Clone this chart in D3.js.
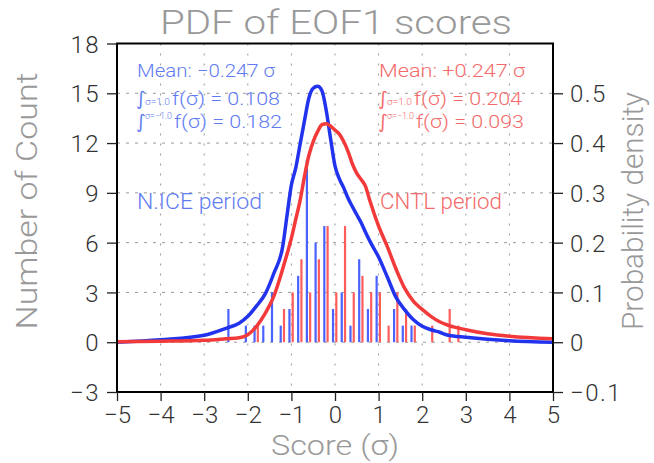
<!DOCTYPE html>
<html>
<head>
<meta charset="utf-8">
<script src="https://cdn.jsdelivr.net/npm/d3@7"></script>
<style>
  body { margin: 0; background: #fff; }
  svg text { font-family: Roboto, "DejaVu Sans", sans-serif; font-weight: 300; }
</style>
</head>
<body>
<div id="chart"></div>
<script>
// histogram bins (sigma) and counts for the two periods
const binCenters = [-2.4, -2.2, -2.0, -1.8, -1.6, -1.4, -1.2, -1.0, -0.8, -0.6, -0.4, -0.2, 0.0,
  0.2, 0.4, 0.6, 0.8, 1.0, 1.2, 1.4, 1.6, 1.8, 2.0, 2.2, 2.4, 2.6, 2.8];
const niceCounts = [2, 0, 1, 1, 1, 3, 1, 2, 4, 11, 6, 7, 2, 3, 1, 5, 2, 4, 0, 2, 1, 1, 0, 0, 0, 0, 0];
const cntlCounts = [0, 0, 0, 1, 0, 0, 2, 3, 5, 3, 5, 7, 3, 7, 3, 4, 3, 3, 1, 3, 2, 1, 0, 1, 0, 2, 1];

// probability density curves
const pdfX = [-5, -4, -3, -2.5, -2.2, -2.0, -1.8, -1.6, -1.4, -1.2, -1.1, -1.0, -0.9, -0.8, -0.7,
  -0.6, -0.5, -0.4, -0.3, -0.2, -0.1, 0.0, 0.1, 0.2, 0.3, 0.4, 0.5, 0.6, 0.7, 0.8,
  1.0, 1.2, 1.4, 1.6, 1.8, 2.0, 2.2, 2.4, 2.6, 3.0, 3.5, 4.0, 5.0];
const nicePdf = [0.000, 0.005, 0.014, 0.028, 0.038, 0.052, 0.073, 0.097, 0.139, 0.192, 0.255, 0.316,
  0.350, 0.398, 0.445, 0.490, 0.510, 0.514, 0.505, 0.465, 0.408, 0.354, 0.328, 0.310, 0.289,
  0.272, 0.256, 0.240, 0.221, 0.203, 0.171, 0.131, 0.090, 0.065, 0.045, 0.032, 0.025, 0.020,
  0.014, 0.010, 0.006, 0.003, 0.000];
const cntlPdf = [0.001, 0.002, 0.004, 0.007, 0.009, 0.015, 0.032, 0.058, 0.093, 0.147, 0.177, 0.209,
  0.247, 0.285, 0.333, 0.375, 0.403, 0.423, 0.437, 0.439, 0.434, 0.426, 0.418, 0.403, 0.383,
  0.358, 0.339, 0.327, 0.313, 0.284, 0.233, 0.192, 0.147, 0.108, 0.082, 0.066, 0.052, 0.041,
  0.034, 0.025, 0.017, 0.012, 0.007];

const xTicks = [-5, -4, -3, -2, -1, 0, 1, 2, 3, 4, 5];
const countTicks = [-3, 0, 3, 6, 9, 12, 15, 18];
const densityTicks = [-0.1, 0, 0.1, 0.2, 0.3, 0.4, 0.5];
const niceStats = ["−0.247", "0.108", "0.182"];
const cntlStats = ["+0.247", "0.204", "0.093"];

const width = 654, height = 463;
const margin = { top: 43.5, right: 101, bottom: 71, left: 117 };
const plotW = width - margin.left - margin.right;
const plotH = height - margin.top - margin.bottom;

const blue = "#2233ee", red = "#f23a3a";
const blueBar = "#4a62ff", redBar = "#ff5c5c";
const blueText = "#5f7cf2", redText = "#f46a6a";

const svg = d3.select("#chart").append("svg")
  .attr("width", width)
  .attr("height", height);

const g = svg.append("g")
  .attr("transform", "translate(" + margin.left + "," + margin.top + ")");

const x = d3.scaleLinear().domain([-5, 5]).range([0, plotW]);
const yCount = d3.scaleLinear().domain([-3, 18]).range([plotH, 0]);
const yPdf = d3.scaleLinear().domain([-0.1, 0.6]).range([plotH, 0]);

// dotted grid
g.append("g").selectAll("line")
  .data(xTicks.slice(1, -1))
  .enter().append("line")
  .attr("x1", d => x(d)).attr("x2", d => x(d))
  .attr("y1", 0).attr("y2", plotH)
  .attr("stroke", "#999").attr("stroke-width", 1)
  .attr("stroke-dasharray", "2,8");

g.append("g").selectAll("line")
  .data(countTicks.slice(1, -1))
  .enter().append("line")
  .attr("x1", 0).attr("x2", plotW)
  .attr("y1", d => yCount(d)).attr("y2", d => yCount(d))
  .attr("stroke", "#999").attr("stroke-width", 1)
  .attr("stroke-dasharray", "3,6");

// histogram sticks
const bins = binCenters.map((c, i) => ({ c: c, nice: niceCounts[i], cntl: cntlCounts[i] }));

g.append("g").selectAll("line")
  .data(bins.filter(d => d.nice > 0))
  .enter().append("line")
  .attr("x1", d => x(d.c - 0.045)).attr("x2", d => x(d.c - 0.045))
  .attr("y1", yCount(0)).attr("y2", d => yCount(d.nice))
  .attr("stroke", blueBar).attr("stroke-width", 2.2);

g.append("g").selectAll("line")
  .data(bins.filter(d => d.cntl > 0))
  .enter().append("line")
  .attr("x1", d => x(d.c + 0.03)).attr("x2", d => x(d.c + 0.03))
  .attr("y1", yCount(0)).attr("y2", d => yCount(d.cntl))
  .attr("stroke", redBar).attr("stroke-width", 2.2);

// pdf curves
const line = d3.line()
  .x(d => x(d[0]))
  .y(d => yPdf(d[1]))
  .curve(d3.curveMonotoneX);

g.append("path")
  .datum(pdfX.map((v, i) => [v, nicePdf[i]]))
  .attr("d", line)
  .attr("fill", "none").attr("stroke", blue).attr("stroke-width", 3.5)
  .attr("stroke-linejoin", "round");

g.append("path")
  .datum(pdfX.map((v, i) => [v, cntlPdf[i]]))
  .attr("d", line)
  .attr("fill", "none").attr("stroke", red).attr("stroke-width", 3.5)
  .attr("stroke-linejoin", "round");

// frame
g.append("rect")
  .attr("width", plotW).attr("height", plotH)
  .attr("fill", "none").attr("stroke", "#000").attr("stroke-width", 2);

// axes
const axisStyle = sel => {
  sel.select(".domain").remove();
  sel.selectAll(".tick line").attr("stroke", "#222").attr("stroke-width", 1.3);
  sel.selectAll(".tick text")
    .attr("fill", "#333")
    .style("font-size", "24px")
    .style("letter-spacing", "1.5px");
};

g.append("g")
  .attr("transform", "translate(0," + plotH + ")")
  .call(d3.axisBottom(x).tickValues(xTicks).tickSize(9).tickPadding(5)
    .tickFormat(d => d < 0 ? "−" + Math.abs(d) : d))
  .call(axisStyle)
  .call(s => s.selectAll(".tick text").style("letter-spacing", "0px"));

g.append("g")
  .call(d3.axisLeft(yCount).tickValues(countTicks).tickSize(10).tickPadding(7)
    .tickFormat(d => d < 0 ? "−" + Math.abs(d) : d))
  .call(axisStyle)
  .call(s => s.selectAll(".tick text").attr("dy", "0.36em"));

g.append("g")
  .attr("transform", "translate(" + plotW + ",0)")
  .call(d3.axisRight(yPdf).tickValues(densityTicks).tickSize(10).tickPadding(7)
    .tickFormat(d => d === 0 ? "0" : (d < 0 ? "−" : "") + Math.abs(d).toFixed(1)))
  .call(axisStyle)
  .call(s => s.selectAll(".tick text").attr("dy", "0.36em"));

// titles
const addText = (px, py, str, size, fill, len, anchor) => {
  const t = svg.append("text")
    .attr("x", px).attr("y", py)
    .attr("fill", fill)
    .style("font-size", size + "px")
    .attr("text-anchor", anchor || "start")
    .text(str);
  if (len) t.attr("textLength", len).attr("lengthAdjust", "spacingAndGlyphs");
  return t;
};

addText(336, 34, "PDF of EOF1 scores", 33, "#999", 352, "middle");
addText(335, 455, "Score (σ)", 27, "#999", 128, "middle");

svg.append("text")
  .attr("transform", "translate(37,201) rotate(-90)")
  .attr("text-anchor", "middle")
  .attr("fill", "#999")
  .style("font-size", "30px")
  .attr("textLength", 257).attr("lengthAdjust", "spacingAndGlyphs")
  .text("Number of Count");

svg.append("text")
  .attr("transform", "translate(643,211) rotate(-90)")
  .attr("text-anchor", "middle")
  .attr("fill", "#999")
  .style("font-size", "30px")
  .attr("textLength", 238).attr("lengthAdjust", "spacingAndGlyphs")
  .text("Probability density");

// period labels
addText(137, 209, "N.ICE period", 22, blueText, 125);
addText(380, 209, "CNTL period", 22, redText, 122);

// statistics: integral sign, limit and value kept in one text per line
const integralLine = (x0, y0, limit, limY, limLen, valX, value, fill) => {
  const t = svg.append("text").attr("fill", fill).style("font-size", "18px");
  t.append("tspan")
    .attr("x", x0 - 1).attr("y", y0)
    .style("font-family", "'DejaVu Sans', sans-serif")
    .style("font-style", "italic")
    .style("font-size", "19px")
    .text("∫");
  t.append("tspan")
    .attr("x", x0 + 8).attr("y", limY)
    .style("font-size", "9px")
    .attr("textLength", limLen).attr("lengthAdjust", "spacingAndGlyphs")
    .text(limit);
  t.append("tspan")
    .attr("x", x0 + valX).attr("y", y0)
    .attr("textLength", 108).attr("lengthAdjust", "spacingAndGlyphs")
    .text("f(σ) = " + value);
};

const addStats = (x0, stats, fill, meanLen) => {
  addText(x0, 77, "Mean: " + stats[0] + " σ", 18, fill, meanLen);
  integralLine(x0, 105, "σ=1.0", 105, 25, 35, stats[1], fill);
  integralLine(x0, 128, "σ=−1.0", 119, 27, 37, stats[2], fill);
};
addStats(137, niceStats, blueText, 138);
addStats(379, cntlStats, redText, 146);
</script>
</body>
</html>
